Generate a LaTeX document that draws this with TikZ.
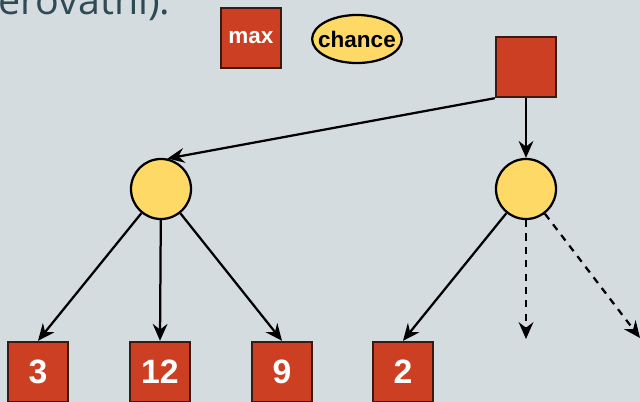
\documentclass[tikz,border=0pt]{standalone}
\usepackage{fontspec}
\setmainfont{Liberation Sans}
\newfontfamily\slidefont{Open Sans}
\usetikzlibrary{arrows.meta,positioning,shapes.geometric}
\definecolor{slidebg}{HTML}{D5DCDF}
\definecolor{maxred}{HTML}{CC3F22}
\definecolor{maxedge}{HTML}{3A1A12}
\definecolor{chanceyellow}{HTML}{FFD966}
\definecolor{slidetext}{HTML}{2E4A57}
\tikzset{%
  % node classes
  maxnode/.style={draw=maxedge, line width=1.7pt, fill=maxred, minimum width=1.5cm,
    minimum height=1.5cm, inner sep=0pt, text=white, font=\bfseries\fontsize{16}{18}\selectfont},
  leaf/.style={maxnode, font=\bfseries\fontsize{24}{26}\selectfont},
  chance/.style={draw=black, line width=1.6pt, fill=chanceyellow, circle,
    minimum size=1.5cm, inner sep=0pt},
  chancelegend/.style={draw=black, line width=1.6pt, fill=chanceyellow, ellipse,
    minimum width=2.15cm, minimum height=1.2cm, inner xsep=-5pt, inner ysep=0pt,
    font=\bfseries\fontsize{16}{18}\selectfont},
  % edge styles
  move/.style={-{Stealth[length=12pt,width=10.5pt,inset=4pt]}, line width=1.6pt},
  unseen/.style={move, dash pattern=on 5pt off 4.5pt},
}
\begin{document}
\begin{tikzpicture}[x=0.025cm, y=-0.025cm]
  \useasboundingbox (0,0) rectangle (640,402);
  \clip (0,0) rectangle (640,402);
  \fill[slidebg] (0,0) rectangle (640,402);

  % slide text, cut at the top
  \node[anchor=base west, inner sep=0pt, text=slidetext, font=\slidefont\fontsize{28}{30}\selectfont]
    (caption) at (-2,14) {erovatní):};

  % legend
  \node[maxnode] (legmax) at (251,38) {max};
  \node[chancelegend] (legchance) at (357,39) {chance};

  % tree
  \node[maxnode] (root) at (526,67) {};
  \node[chance] (lc) at (161,189) {};
  \node[chance] (rc) at (526,189) {};
  \node[leaf] (l3) at (38,372) {3};
  \node[leaf] (l12) at (160,372) {12};
  \node[leaf] (l9) at (282,372) {9};
  \node[leaf] (l2) at (403,372) {2};
  \coordinate (d1) at (526,339);
  \coordinate (d2) at (640,338);

  % moves
  \draw[move] (root.south west) -- (lc.78);
  \draw[move] (root) -- (rc);
  \draw[move] (lc) -- (l3.north);
  \draw[move] (lc) -- (l12.north);
  \draw[move] (lc) -- (l9.north);
  \draw[move] (rc) -- (l2.north);
  \draw[unseen] (rc) -- (d1);
  \draw[unseen] (rc) -- (d2);
\end{tikzpicture}
\end{document}
